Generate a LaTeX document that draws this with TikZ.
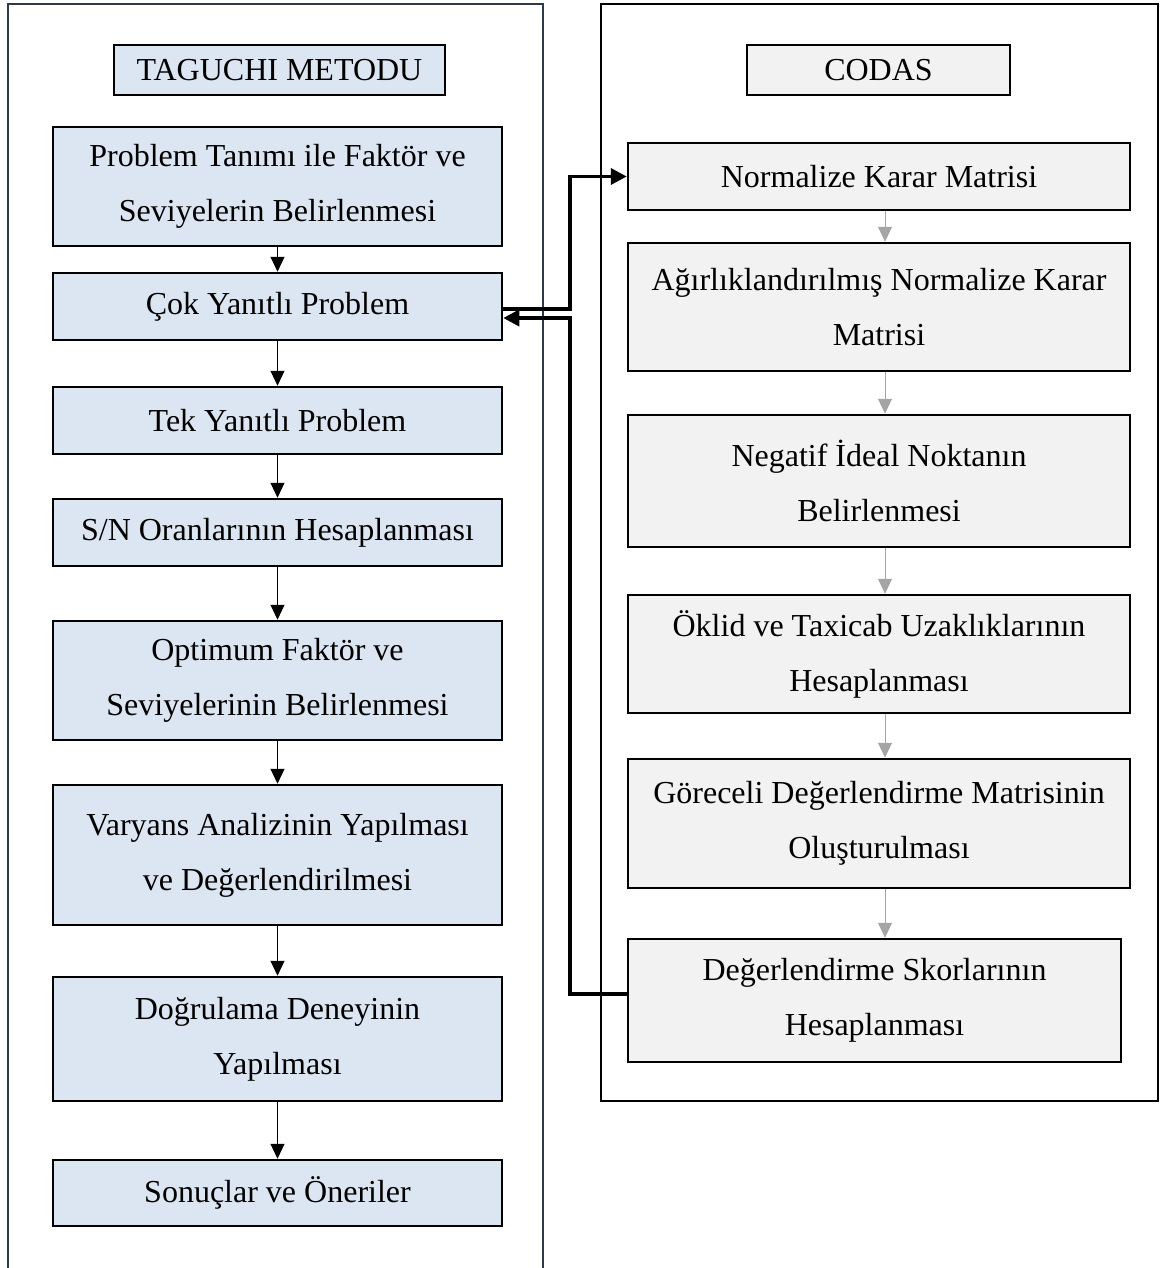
\documentclass[tikz,border=0pt]{standalone}
\usepackage{fontspec}
\setmainfont{Liberation Serif}
\usetikzlibrary{arrows.meta,calc}
\definecolor{lblue}{HTML}{DCE6F2}
\definecolor{lgray}{HTML}{F2F2F2}
\definecolor{panelc}{HTML}{2F3A48}
\definecolor{arrgray}{HTML}{A5A5A5}
\newcommand\flowbox[7]{\node[#6, minimum width={(#4-#2)*0.5pt}, minimum height={(#5-#3)*0.5pt}] (#1) at ({(#2+#4)/2},{(#3+#5)/2}) {#7};}
\begin{document}
\begin{tikzpicture}[x=0.5pt,y=-0.5pt,
  box/.style={draw=black, line width=1.25pt, inner sep=0pt, align=center, font=\fontsize{16}{27.5}\selectfont},
  tbox/.style={box, fill=lblue},
  cbox/.style={box, fill=lgray},
  larr/.style={-{Triangle[length=7.5pt,width=7pt]}, line width=0.5pt, draw=black, fill=black},
  garr/.style={-{Triangle[length=7.5pt,width=7pt]}, line width=0.5pt, draw=arrgray, fill=arrgray},
  bigconn/.style={-{Triangle[length=8pt,width=8pt]}, line width=1.8pt, draw=black}
]
\useasboundingbox (0,0) rectangle (1161,1268);
% panels
\draw[panelc, line width=0.9pt] (8,1275) -- (8,4) -- (543,4) -- (543,1275);
\draw[black, line width=0.9pt] (601,4) rectangle (1158,1101);
% titles
\flowbox{T0}{114}{45}{445}{95}{tbox}{TAGUCHI METODU}
\flowbox{C0}{747}{45}{1010}{95}{cbox}{CODAS}
% left column
\flowbox{L1}{53}{127}{502}{246}{tbox}{Problem Tanımı ile Faktör ve\\Seviyelerin Belirlenmesi}
\flowbox{L2}{53}{273}{502}{340}{tbox}{Çok Yanıtlı Problem}
\flowbox{L3}{53}{387}{502}{454}{tbox}{Tek Yanıtlı Problem}
\flowbox{L4}{53}{499}{502}{566}{tbox}{S/N Oranlarının Hesaplanması}
\flowbox{L5}{53}{621}{502}{740}{tbox}{Optimum Faktör ve\\Seviyelerinin Belirlenmesi}
\flowbox{L6}{53}{785}{502}{925}{tbox}{Varyans Analizinin Yapılması\\ve Değerlendirilmesi}
\flowbox{L7}{53}{977}{502}{1101}{tbox}{Doğrulama Deneyinin\\Yapılması}
\flowbox{L8}{53}{1160}{502}{1226}{tbox}{Sonuçlar ve Öneriler}
% right column
\flowbox{R1}{628}{143}{1130}{210}{cbox}{Normalize Karar Matrisi}
\flowbox{R2}{628}{243}{1130}{371}{cbox}{Ağırlıklandırılmış Normalize Karar\\Matrisi}
\flowbox{R3}{628}{415}{1130}{547}{cbox}{Negatif İdeal Noktanın\\Belirlenmesi}
\flowbox{R4}{628}{595}{1130}{713}{cbox}{Öklid ve Taxicab Uzaklıklarının\\Hesaplanması}
\flowbox{R5}{628}{759}{1130}{888}{cbox}{Göreceli Değerlendirme Matrisinin\\Oluşturulması}
\flowbox{R6}{628}{939}{1121}{1062}{cbox}{Değerlendirme Skorlarının\\Hesaplanması}
% left arrows
\draw[larr] (L1.south) -- (L2.north);
\draw[larr] (L2.south) -- (L3.north);
\draw[larr] (L3.south) -- (L4.north);
\draw[larr] (L4.south) -- (L5.north);
\draw[larr] (L5.south) -- (L6.north);
\draw[larr] (L6.south) -- (L7.north);
\draw[larr] (L7.south) -- (L8.north);
% right arrows
\draw[garr] ([xshift=3pt]R1.south) -- ([xshift=3pt]R2.north);
\draw[garr] ([xshift=3pt]R2.south) -- ([xshift=3pt]R3.north);
\draw[garr] ([xshift=3pt]R3.south) -- ([xshift=3pt]R4.north);
\draw[garr] ([xshift=3pt]R4.south) -- ([xshift=3pt]R5.north);
\draw[garr] ([xshift=3pt]R5.south) -- ([xshift=3pt]R5.south |- R6.north);
% connectors between methods
\draw[bigconn] ([yshift=-1.25pt]L2.east) -- ++(67,0) |- (R1.west);
\draw[bigconn] ([yshift=3.25pt]R6.west) -- ++(-57,0) |- ([yshift=-5.75pt]L2.east);
\end{tikzpicture}
\end{document}
